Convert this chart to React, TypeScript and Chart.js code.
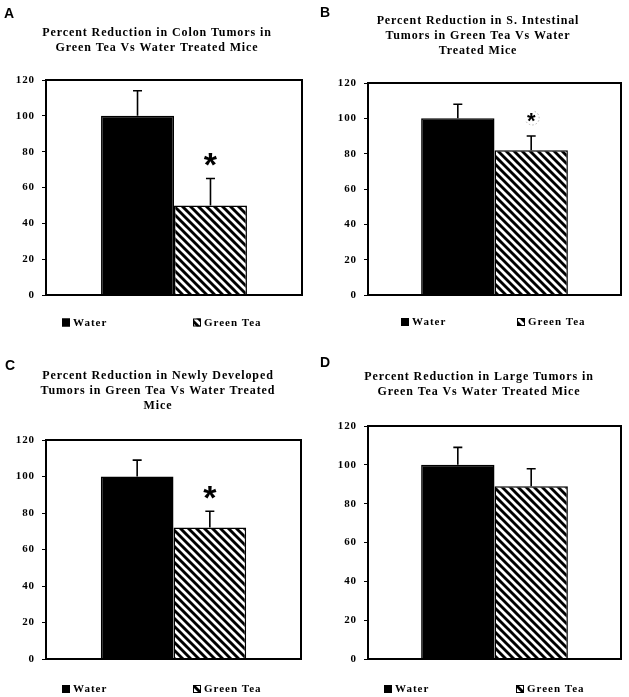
import React, { useEffect, useRef } from 'react';
import { Chart, registerables } from 'chart.js';

Chart.register(...registerables);

// ---------- data ----------
const seriesNames = ['Water', 'Green Tea'];
const panelLetters = ['A', 'B', 'C', 'D'];
const panelTitles = [
  ['Percent Reduction in Colon Tumors in', 'Green Tea Vs Water Treated Mice'],
  ['Percent Reduction in S. Intestinal', 'Tumors in Green Tea Vs Water', 'Treated Mice'],
  ['Percent Reduction in Newly Developed', 'Tumors in Green Tea Vs Water Treated', 'Mice'],
  ['Percent Reduction in Large Tumors in', 'Green Tea Vs Water Treated Mice'],
];
const waterMeans = [100, 100, 100, 100];
const waterErrors = [14, 8, 9, 9];
const greenTeaMeans = [50, 82, 72, 89];
const greenTeaErrors = [15, 8, 9, 9];
const significanceMarks = ['*', '*', '*', ''];
const yTicks = [0, 20, 40, 60, 80, 100, 120];

// ---------- layout (positions / sizes only) ----------
type Layout = {
  left: number; top: number; w: number; h: number;
  padL: number; axisW: number; padR: number; padB: number;
  titleTop: number; titleBottom: number; cat: number;
  legendX: number[]; legendDy: number; letterX: number; letterY: number;
  starSize: number; starRing: boolean;
};
const layouts: Layout[] = [
  { left: 0, top: 0, w: 314, h: 340, padL: 12, axisW: 34, padR: 12, padB: 45, titleTop: 25.5, titleBottom: 24.5, cat: 0.57, legendX: [16, 147], legendDy: 27.5, letterX: 4, letterY: 17.5, starSize: 34, starRing: false },
  { left: 315, top: 0, w: 314, h: 340, padL: 20, axisW: 33, padR: 8, padB: 45, titleTop: 13.5, titleBottom: 24.5, cat: 0.58, legendX: [33, 149], legendDy: 27, letterX: 5, letterY: 17, starSize: 22, starRing: true },
  { left: 0, top: 340, w: 314, h: 357, padL: 15, axisW: 31, padR: 13, padB: 38, titleTop: 28, titleBottom: 27, cat: 0.57, legendX: [16, 147], legendDy: 30, letterX: 5, letterY: 30, starSize: 34, starRing: false },
  { left: 315, top: 340, w: 314, h: 357, padL: 22, axisW: 31, padR: 8, padB: 38, titleTop: 29.5, titleBottom: 26.5, cat: 0.58, legendX: [16, 148], legendDy: 30, letterX: 5, letterY: 27, starSize: 34, starRing: false },
];

const SERIF = '"Liberation Serif", "Times New Roman", serif';
const SANS = '"Liberation Sans", Arial, sans-serif';

function makeHatch(): CanvasPattern {
  const p = 8;
  const s = p * 2;
  const c = document.createElement('canvas');
  c.width = s; c.height = s;
  const g = c.getContext('2d')!;
  g.fillStyle = '#fff';
  g.fillRect(0, 0, s, s);
  g.strokeStyle = '#000';
  g.lineWidth = 2.9;
  g.lineCap = 'butt';
  for (let k = -3; k <= 3; k++) {
    g.beginPath();
    g.moveTo(k * p - 6, -6);
    g.lineTo(k * p + s + 6, s + 6);
    g.stroke();
  }
  return g.createPattern(c, 'repeat')!;
}

function Panel({ idx }: { idx: number }) {
  const ref = useRef<HTMLCanvasElement>(null);
  const L = layouts[idx];

  useEffect(() => {
    const canvas = ref.current!;
    const hatch = makeHatch();
    const errors = [[waterErrors[idx]], [greenTeaErrors[idx]]];
    const marks = [[''], [significanceMarks[idx]]];

    const decor = {
      id: 'decor',
      beforeUpdate(c: any) { c.ctx.letterSpacing = '0.9px'; },
      beforeDraw(c: any) {
        const ctx = c.ctx;
        ctx.save();
        ctx.fillStyle = '#fff';
        ctx.fillRect(0, 0, c.width, c.height);
        ctx.restore();
        ctx.letterSpacing = '0.9px';
      },
      afterDatasetsDraw(c: any) {
        const ctx = c.ctx;
        const ys = c.scales.y;
        const a = c.chartArea;
        ctx.save();
        // plot frame
        ctx.strokeStyle = '#000';
        ctx.lineWidth = 2;
        ctx.strokeRect(a.left, a.top, a.right - a.left, a.bottom - a.top);
        // error bars + significance marks
        c.data.datasets.forEach((ds: any, di: number) => {
          const meta = c.getDatasetMeta(di);
          meta.data.forEach((el: any, j: number) => {
            const v = ds.data[j];
            const e = errors[di][j];
            const yTop = ys.getPixelForValue(v + e);
            ctx.strokeStyle = '#000';
            ctx.lineWidth = 1.6;
            ctx.beginPath();
            ctx.moveTo(el.x, el.y);
            ctx.lineTo(el.x, yTop);
            ctx.moveTo(el.x - 4.5, yTop);
            ctx.lineTo(el.x + 4.5, yTop);
            ctx.stroke();
            const m = marks[di][j];
            if (m) {
              const cy = yTop - 19;
              ctx.letterSpacing = '0px';
              ctx.font = `bold ${L.starSize}px ${SANS}`;
              ctx.fillStyle = '#000';
              ctx.textAlign = 'center';
              ctx.textBaseline = 'alphabetic';
              const mm = ctx.measureText(m);
              const base = cy + (mm.actualBoundingBoxAscent - mm.actualBoundingBoxDescent) / 2;
              ctx.fillText(m, el.x, base);
              if (L.starRing) {
                ctx.strokeStyle = '#b5b5b5';
                ctx.lineWidth = 1;
                ctx.setLineDash([1.5, 2]);
                ctx.beginPath();
                ctx.arc(el.x + 1, cy + 1, 7, -1.2, 2.6);
                ctx.stroke();
                ctx.setLineDash([]);
              }
            }
          });
        });
        ctx.restore();
      },
      afterDraw(c: any) {
        const ctx = c.ctx;
        const a = c.chartArea;
        ctx.save();
        // legend
        const ly = a.bottom + L.legendDy;
        c.data.datasets.forEach((ds: any, di: number) => {
          const bx = a.left + L.legendX[di];
          ctx.fillStyle = ds.backgroundColor;
          ctx.fillRect(bx, ly - 4, 8, 8);
          ctx.strokeStyle = '#000';
          ctx.lineWidth = 1;
          ctx.strokeRect(bx + 0.5, ly - 3.5, 7, 7);
          ctx.letterSpacing = '1px';
          ctx.font = `bold 11px ${SERIF}`;
          ctx.fillStyle = '#000';
          ctx.textAlign = 'left';
          ctx.textBaseline = 'middle';
          ctx.fillText(ds.label, bx + 11, ly + 0.5);
        });
        // panel letter
        ctx.letterSpacing = '0px';
        ctx.font = `bold 14px ${SANS}`;
        ctx.fillStyle = '#000';
        ctx.textAlign = 'left';
        ctx.textBaseline = 'alphabetic';
        ctx.fillText(panelLetters[idx], L.letterX, L.letterY);
        ctx.restore();
        ctx.letterSpacing = '0.9px';
      },
    };

    const chart = new Chart(canvas, {
      type: 'bar',
      data: {
        labels: [''],
        datasets: [
          { label: seriesNames[0], data: [waterMeans[idx]], backgroundColor: '#000', borderColor: '#000', borderWidth: 1.5, barPercentage: 1, categoryPercentage: L.cat } as any,
          { label: seriesNames[1], data: [greenTeaMeans[idx]], backgroundColor: hatch, borderColor: '#000', borderWidth: 1.5, barPercentage: 1, categoryPercentage: L.cat } as any,
        ],
      },
      options: {
        responsive: false,
        animation: false,
        layout: { padding: { left: L.padL, right: L.padR, top: 0, bottom: L.padB } },
        plugins: {
          legend: { display: false },
          tooltip: { enabled: false },
          title: {
            display: true,
            text: panelTitles[idx],
            color: '#000',
            font: { family: SERIF, weight: 'bold', size: 12, lineHeight: 1.25 },
            padding: { top: L.titleTop, bottom: L.titleBottom },
          },
        },
        scales: {
          x: { display: false },
          y: {
            min: 0,
            max: 120,
            afterBuildTicks: (s: any) => { s.ticks = yTicks.map((v) => ({ value: v })); },
            afterFit: (s: any) => { s.width = L.axisW; },
            ticks: { color: '#000', padding: 7, font: { family: SERIF, weight: 'bold', size: 11 } },
            grid: { drawOnChartArea: false, drawTicks: true, tickLength: 4, color: '#000', lineWidth: 1 },
            border: { display: false },
          },
        },
      } as any,
      plugins: [decor as any],
    });
    return () => chart.destroy();
  }, [idx]);

  return (
    <canvas
      ref={ref}
      width={L.w}
      height={L.h}
      style={{ position: 'absolute', left: L.left, top: L.top, width: L.w, height: L.h }}
    />
  );
}

export default function App() {
  return (
    <div style={{ position: 'absolute', left: 0, top: 0, width: 629, height: 697, background: '#fff', overflow: 'hidden' }}>
      {[0, 1, 2, 3].map((i) => (
        <Panel key={i} idx={i} />
      ))}
    </div>
  );
}
